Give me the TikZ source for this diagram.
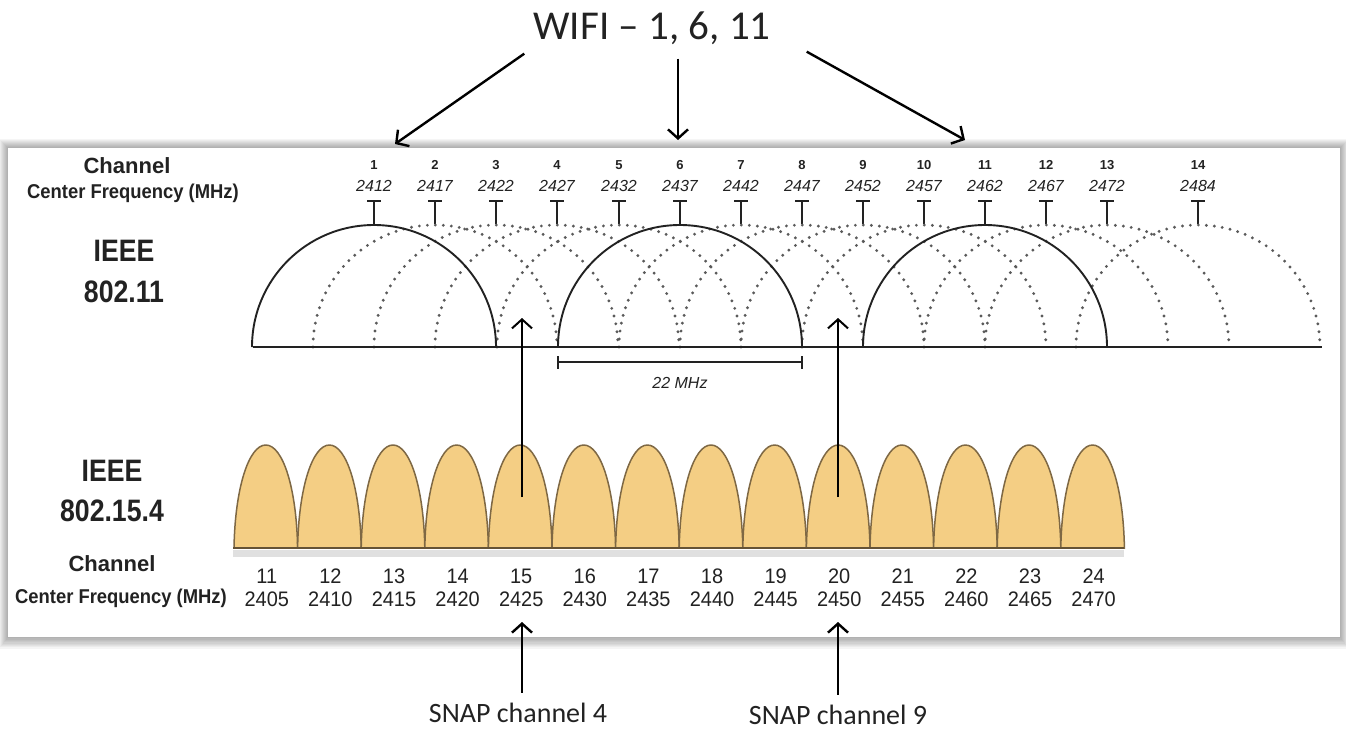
\documentclass[tikz,border=0pt]{standalone}
\usepackage{fontspec}
\setmainfont{Liberation Sans}
\newfontfamily\calibri{Carlito}
\usetikzlibrary{arrows.meta}
\definecolor{ink}{HTML}{222222}
\definecolor{dotgray}{HTML}{5A5A5A}
\definecolor{chipfill}{HTML}{F4CE84}
\definecolor{chipedge}{HTML}{7E6844}
\tikzset{
  sidelbl/.style={inner sep=0pt,text=ink,font=\fontsize{22}{26}\selectfont\bfseries},
  bigside/.style={inner sep=0pt,text=ink,xscale=0.86,font=\fontsize{31}{36}\selectfont\bfseries},
  freqlbl/.style={inner sep=0pt,text=ink,xscale=0.92,font=\fontsize{20}{24}\selectfont\bfseries},
  wifinum/.style={inner sep=0pt,text=ink,font=\fontsize{13}{15}\selectfont\bfseries},
  wififreq/.style={inner sep=0pt,text=ink,font=\fontsize{16}{19}\selectfont\itshape},
  chipnum/.style={inner sep=0pt,text=ink,xscale=0.95,font=\fontsize{21}{25}\selectfont},
  tee/.style={line width=2pt,ink},
  fullarc/.style={line width=1.9pt,ink},
  dotarc/.style={line width=3.2pt,dotgray,line cap=round,dash pattern=on 0pt off 8pt},
  chip/.style={fill=chipfill,draw=chipedge,line width=1.5pt},
  pointer/.style={line width=2.4pt,black,-{Straight Barb[length=9pt,width=20pt]}},
  note/.style={inner sep=0pt,text=ink,font=\calibri\fontsize{28}{32}\selectfont},
}

\begin{document}
\begin{tikzpicture}[x=1pt,y=-1pt]
\path[use as bounding box] (0,0) rectangle (1346,729);
% panel with soft shadow
\foreach \d in {1,...,9}
  \fill[black,opacity=0.04] (8-\d,148-\d) rectangle (1340+\d,637+1.3*\d);
\fill[white] (8,148) rectangle (1340,637);

% 802.11 side labels
\node[sidelbl] (chanA) at (127,166) {Channel};
\node[freqlbl] (cfA) at (133,193) {Center Frequency (MHz)};
\node[bigside] (ieeeA) at (124,251) {IEEE};
\node[bigside] (stdA) at (124,292) {802.11};

% wifi channel heads
\foreach \n/\cx/\f in {1/374/2412,2/435/2417,3/496/2422,4/557/2427,5/619/2432,6/680/2437,7/741/2442,
    8/802/2447,9/863/2452,10/924/2457,11/985/2462,12/1046/2467,13/1107/2472,14/1198/2484}{
  \node[wifinum] (ch\n) at (\cx,165) {\n};
  \node[wififreq] (fq\n) at (\cx,186) {\f};
  \draw[tee] (\cx-7,201) -- (\cx+7,201) (\cx,201) -- (\cx,224);
}
% overlapping channel masks
\foreach \cx in {435,496,557,619,741,802,863,924,1046,1107,1198}
  \draw[dotarc] (\cx-122,347) arc[start angle=180,end angle=360,radius=122];
\foreach \cx in {374,680,985}
  \draw[fullarc] (\cx-122,347) arc[start angle=180,end angle=360,radius=122];
\draw[line width=2pt,ink] (253,347) -- (1322,347);

% 22 MHz span
\draw[line width=1.6pt,ink] (558,356) -- (558,369) (558,362) -- (802,362) (802,356) -- (802,369);
\node[wififreq] (span) at (680,383) {22 MHz};

% 802.15.4 side labels
\node[bigside] (ieeeB) at (112,471) {IEEE};
\node[bigside] (stdB) at (112,511) {802.15.4};
\node[sidelbl] (chanB) at (112,564) {Channel};
\node[freqlbl] (cfB) at (121,598) {Center Frequency (MHz)};

% zigbee channels
\fill[black,opacity=0.12] (233,550) rectangle (1124,557);
\foreach \k [count=\j from 0] in {11,...,24}{
  \pgfmathsetmacro\xl{234+63.6*\j}
  \pgfmathsetmacro\xc{\xl+31.8}
  \pgfmathsetmacro\xr{\xl+63.6}
  \pgfmathtruncatemacro\f{2405+5*\j}
  \filldraw[chip] (\xl,548) .. controls (\xl+1,488) and (\xc-17,445) .. (\xc,445)
     .. controls (\xc+17,445) and (\xr-1,488) .. (\xr,548) -- cycle;
  \node[chipnum] (n\k) at (\xc+1,576) {\k};
  \node[chipnum] (f\k) at (\xc+1,599) {\f};
}
\draw[chipedge!80!black,line width=2.5pt] (233,548) -- (1124,548);

% title and pointers
\node[note,font=\calibri\fontsize{41}{49}\selectfont] (title) at (652,28) {WIFI – 1, 6, 11};
\coordinate (w1) at (395,144);
\coordinate (w6) at (678,140);
\coordinate (w11) at (965,140);
\draw[pointer] ([shift={(-9,9)}]title.south west) -- (w1);
\draw[pointer] ([shift={(26,14)}]title.south) -- (w6);
\draw[pointer] ([shift={(36,7)}]title.south east) -- (w11);

% SNAP channels
\coordinate (in15) at (522,497);
\coordinate (gap4) at (522,318);
\coordinate (in20) at (838,497);
\coordinate (gap9) at (838,318);
\draw[pointer,line width=2pt] (in15) -- (gap4);
\draw[pointer,line width=2pt] (in20) -- (gap9);
\node[note] (snap4) at (518,713) {SNAP channel 4};
\node[note] (snap9) at (838,715) {SNAP channel 9};
\coordinate (up4) at (522,622);
\coordinate (up9) at (838,622);
\draw[pointer] ([yshift=10pt]snap4.north -| up4) -- (up4);
\draw[pointer] ([yshift=10pt]snap9.north -| up9) -- (up9);
\end{tikzpicture}
\end{document}
